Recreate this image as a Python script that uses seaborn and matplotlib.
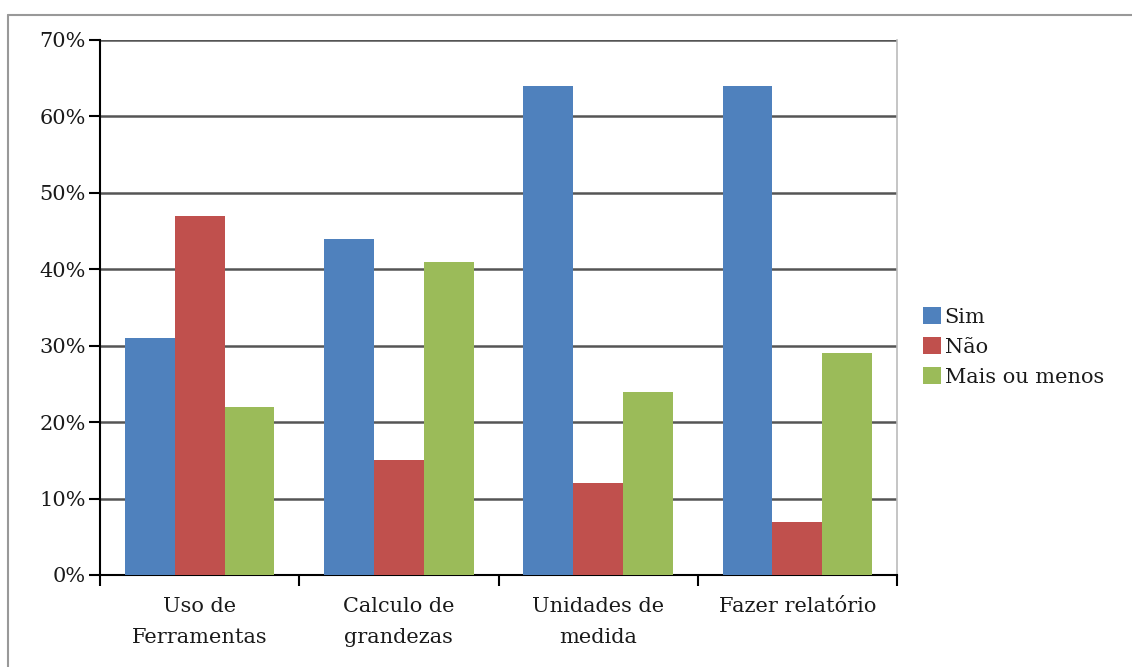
import matplotlib
matplotlib.use("Agg")
import matplotlib.pyplot as plt
import matplotlib.lines as mlines
from matplotlib.ticker import FixedLocator, PercentFormatter
import seaborn as sns
import pandas as pd

categories = ["Uso de\nFerramentas", "Calculo de\ngrandezas", "Unidades de\nmedida", "Fazer relatório"]
series_names = ["Sim", "Não", "Mais ou menos"]
sim = [31, 44, 64, 64]
nao = [47, 15, 12, 7]
mais = [22, 41, 24, 29]
y_ticks = [0, 10, 20, 30, 40, 50, 60, 70]
colors = ["#4F81BD", "#C0504D", "#9BBB59"]

rows = []
for name, vals in zip(series_names, [sim, nao, mais]):
    for c, v in zip(categories, vals):
        rows.append({"cat": c, "serie": name, "val": v})
df = pd.DataFrame(rows)

sns.set_style("white")
plt.rcParams["font.family"] = ["DejaVu Serif"]

FS = 15
fig = plt.figure(figsize=(11.32, 6.67), dpi=100)
ax = fig.add_axes([100 / 1132, 1 - 575 / 667, 797 / 1132, 535 / 667])

sns.barplot(data=df, x="cat", y="val", hue="serie", hue_order=series_names,
            order=categories, palette=colors, width=0.75, saturation=1,
            edgecolor="none", linewidth=0, ax=ax, zorder=3)

ax.set_xlim(-0.5, len(categories) - 0.5)
ax.set_ylim(0, 70)
ax.set_yticks(y_ticks)
ax.yaxis.set_major_formatter(PercentFormatter(decimals=0))
ax.grid(axis="y", color="#555555", linewidth=1.8, zorder=0)
ax.set_axisbelow(True)
ax.set_xlabel("")
ax.set_ylabel("")

ax.tick_params(axis="y", which="major", direction="out", length=8, width=1.5,
               color="black", labelsize=FS, labelcolor="#1a1a1a", pad=2, left=True)
ax.tick_params(axis="x", which="major", length=0, labelsize=FS, labelcolor="#1a1a1a", pad=16)
ax.xaxis.set_minor_locator(FixedLocator([i - 0.5 for i in range(len(categories) + 1)]))
ax.tick_params(axis="x", which="minor", direction="out", length=8, width=1.5,
               color="black", bottom=True)
for lab in ax.get_xticklabels():
    lab.set_linespacing(1.8)

for s in ["left", "bottom"]:
    ax.spines[s].set_color("black")
    ax.spines[s].set_linewidth(1.5)
ax.spines["top"].set_visible(False)
ax.spines["right"].set_color("#BBBBBB")
ax.spines["right"].set_linewidth(1.2)

handles, labels = ax.get_legend_handles_labels()
ax.legend(handles, labels, loc="center left", bbox_to_anchor=(1.022, 0.426),
          frameon=False, fontsize=FS, handlelength=0.85, handleheight=0.85,
          handletextpad=0.2, labelspacing=0.5, borderaxespad=0,
          labelcolor="#1a1a1a")

# figure border (left and top visible)
fig.add_artist(mlines.Line2D([8 / 1132, 8 / 1132], [0, 1 - 15 / 667], transform=fig.transFigure,
                             color="#999999", linewidth=1.5))
fig.add_artist(mlines.Line2D([8 / 1132, 1], [1 - 15 / 667, 1 - 15 / 667], transform=fig.transFigure,
                             color="#999999", linewidth=1.5))

fig.savefig("out.png", dpi=100)
